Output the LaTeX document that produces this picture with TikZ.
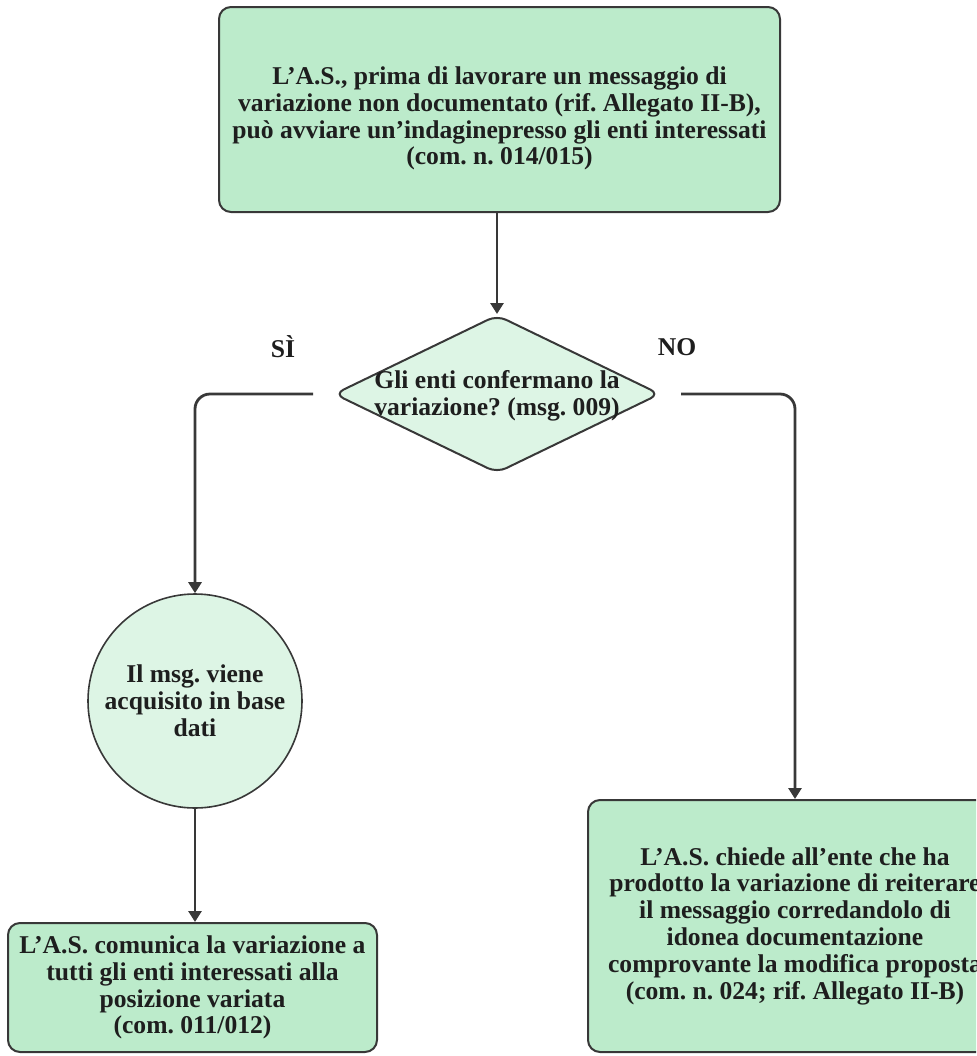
\documentclass[tikz,border=0pt]{standalone}
\usepackage{fontspec}
\setmainfont{Liberation Serif}
\usetikzlibrary{shapes.geometric,arrows.meta}

\definecolor{boxgreen}{HTML}{BCEBCB}
\definecolor{palegreen}{HTML}{DDF5E5}
\definecolor{edgegray}{HTML}{383838}
\definecolor{inkgray}{HTML}{1E1E1E}

\tikzset{
  txt/.style={font=\bfseries\fontsize{12.8}{13.4}\selectfont\frenchspacing, text=inkgray, align=center},
  stepbox/.style={txt, draw=edgegray, line width=1pt, fill=boxgreen, rounded corners=6pt, inner sep=0pt},
  decision/.style={diamond, draw=edgegray, line width=1pt, fill=palegreen, rounded corners=5pt,
    minimum width=163pt, minimum height=79pt, inner sep=0pt},
  roundbox/.style={txt, circle, draw=edgegray, line width=0.8pt, fill=palegreen, minimum size=107pt, inner sep=0pt},
  flow/.style={draw=edgegray, line width=1.4pt, -{Triangle[length=5.5pt,width=6.5pt]}}
}

\begin{document}
\begin{tikzpicture}[x=0.5pt, y=-0.5pt]
\useasboundingbox (0,0) rectangle (976,1056);
\clip (0,0) rectangle (976,1056);

% Start
\node[stepbox, minimum width=280.5pt, minimum height=102.5pt] (start) at (499.5,109.5) {};
\node[txt] (starttxt) at ([yshift=-4.5pt]start.center)
  {L'A.S., prima di lavorare un messaggio di\\variazione non documentato (rif. Allegato II-B),\\pu\`o avviare un'indaginepresso gli enti interessati\\(com. n. 014/015)};

% Decision
\node[decision] (dec) at (497,394) {};
\node[txt] (dectxt) at ([yshift=-1pt]dec.center) {Gli enti confermano la\\variazione? (msg. 009)};
\node[txt] (yes) at (283,347) {SÌ};
\node[txt] (no) at (677,347) {NO};

% Yes branch
\node[roundbox] (acq) at (195,701) {Il msg. viene\\acquisito in base\\dati};
\node[stepbox, minimum width=184.5pt, minimum height=64.5pt] (notify) at (192.5,987.5)
  {L'A.S. comunica la variazione a\\tutti gli enti interessati alla\\posizione variata\\(com. 011/012)};

% No branch
\node[stepbox, minimum width=207pt, minimum height=126pt] (retry) at (795,926)
  {L'A.S. chiede all'ente che ha\\prodotto la variazione di reiterare\\il messaggio corredandolo di\\idonea documentazione\\comprovante la modifica proposta\\(com. n. 024; rif. Allegato II-B)};

% Connectors
\draw[flow] (start.south -| dec.north) -- (dec.north);
\draw[flow, rounded corners=7.5pt] ([xshift=-10pt]dec.west) -| (acq.north);
\draw[flow, rounded corners=7.5pt] ([xshift=10pt]dec.east) -| (retry.north);
\draw[flow] (acq.south) -- (acq.south |- notify.north);
\end{tikzpicture}
\end{document}
